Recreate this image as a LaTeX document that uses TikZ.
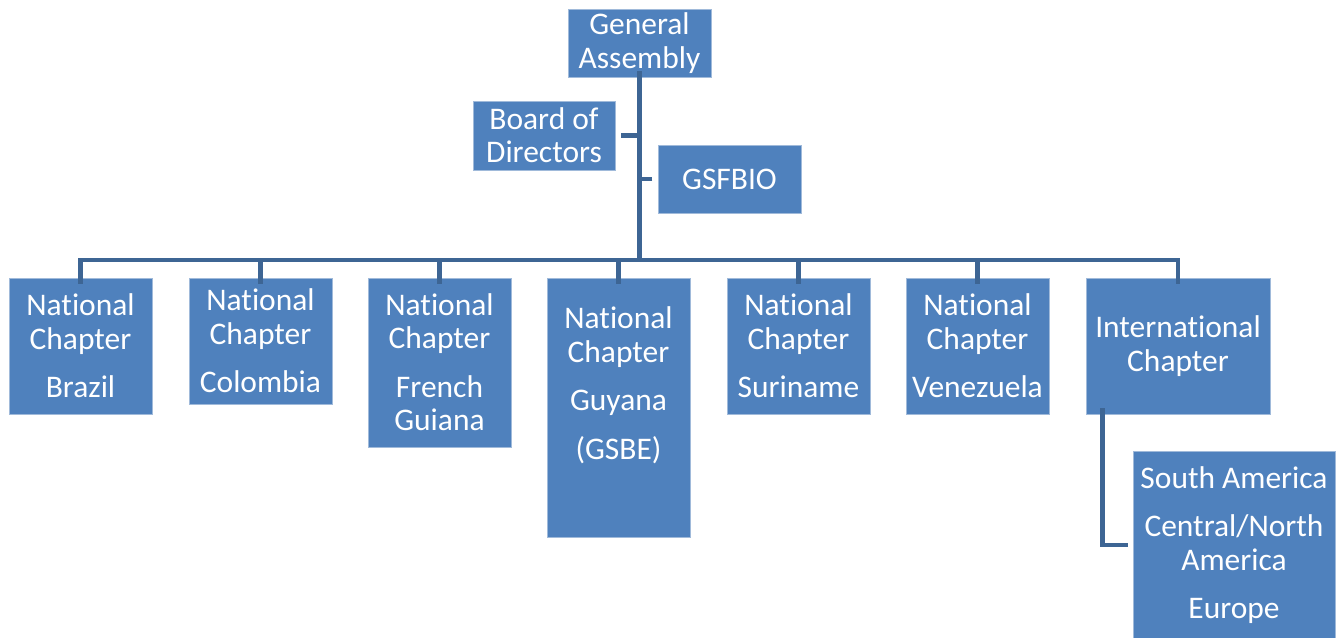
\documentclass[tikz,border=0pt]{standalone}
\usepackage{fontspec}
\setmainfont{Carlito}[Ligatures={NoCommon,NoContextual}]
\usetikzlibrary{calc}

\definecolor{boxblue}{RGB}{79,129,189}
\definecolor{boxedge}{RGB}{160,186,218}
\definecolor{linkblue}{RGB}{61,101,148}

\tikzset{every picture/.style={line width=0.75pt}}
\tikzset{
	unit/.style={draw=boxedge, line width=0.6pt, fill=boxblue, text=white, align=center, inner sep=0pt,
		font=\fontsize{23.6}{25}\selectfont, minimum width=107.25pt},
	link/.style={draw=linkblue, line width=3.6pt}
}

\begin{document}
\begin{tikzpicture}[x=0.75pt,y=0.75pt,yscale=-1,xscale=1]
	\useasboundingbox (0,0) rectangle (1338,637);

	%Shape: Rectangle [id:ga] 
	\node[unit, minimum height=51pt] (ga) at (639.5,43) {General\\Assembly};
	%Shape: Rectangle [id:board] 
	\node[unit, minimum height=51.75pt, minimum width=106.5pt] (board) at (544,135.5) {Board of\\Directors};
	%Shape: Rectangle [id:gsfbio] 
	\node[unit, minimum height=51pt] (gsfbio) at (729.5,179) {GSFBIO};

	%Shape: Rectangle [id:brazil] 
	\node[unit, minimum height=102pt] (brazil) at (80.5,346) {National\\Chapter\\[11.5pt]Brazil};
	%Shape: Rectangle [id:colombia] 
	\node[unit, minimum height=94.5pt] (colombia) at (260.5,341) {National\\Chapter\\[11.5pt]Colombia};
	%Shape: Rectangle [id:fguiana] 
	\node[unit, minimum height=126.75pt] (fguiana) at (439.5,362.5) {National\\Chapter\\[11.5pt]French\\Guiana};
	%Shape: Rectangle [id:guyana] 
	\node[unit, minimum height=194.25pt] (guyana) at (618.5,407.5) {National\\Chapter\\[11.5pt]Guyana\\[11.5pt](GSBE)\\[4pt]\strut};
	%Shape: Rectangle [id:suriname] 
	\node[unit, minimum height=102pt] (suriname) at (798.5,346) {National\\Chapter\\[11.5pt]Suriname};
	%Shape: Rectangle [id:venezuela] 
	\node[unit, minimum height=102pt] (venezuela) at (977.5,346) {National\\Chapter\\[11.5pt]Venezuela};
	%Shape: Rectangle [id:intl] 
	\node[unit, minimum height=102pt, minimum width=138pt] (intl) at (1178,346) {International\\Chapter};
	%Shape: Rectangle [id:regions] 
	\node[unit, minimum height=141pt, minimum width=151.5pt] (regions) at (1234,545) {South America\\[11.5pt]Central/North\\America\\[11.5pt]Europe};

	%Straight Lines [id:bus] 
	\coordinate (bus) at (640,260);
	\draw[link] ([yshift=-4.5pt]ga.south) -- (ga.south |- bus);
	\draw[link] ([xshift=4.5pt]board.east) -- (board.east -| ga.south);
	\draw[link] ([xshift=-4pt]gsfbio.west) -- (gsfbio.west -| ga.south);
	\draw[link] ($(brazil.north |- bus)+(-1.8pt,0)$) -- ($(intl.north |- bus)+(1.8pt,0)$);
	\foreach \n in {brazil,colombia,fguiana,guyana,suriname,venezuela,intl}
		\draw[link] (\n.north |- bus) -- ([yshift=4.5pt]\n.north);

	%Straight Lines [id:sub] 
	\draw[link] ([xshift=12.75pt,yshift=-4.5pt]intl.south west) |- ([xshift=-3.75pt]regions.west);

\end{tikzpicture}
\end{document}
